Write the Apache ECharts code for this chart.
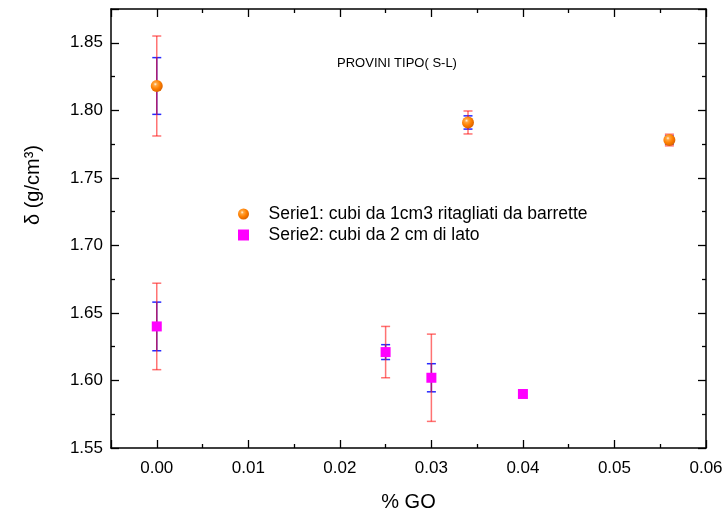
<!DOCTYPE html>
<html><head><meta charset="utf-8">
<script src="https://cdn.jsdelivr.net/npm/echarts@6.0.0/dist/echarts.min.js"></script>
<style>html,body{margin:0;padding:0;background:#fff}#c{width:723px;height:511px}</style>
</head><body><div id="c"></div>
<script>
// ---- data ----
const series1Name = 'Serie1: cubi da 1cm3 ritagliati da barrette';
const series2Name = 'Serie2: cubi da 2 cm di lato';
const s1X = [0, 0.034, 0.056];
const s1Y = [1.818, 1.791, 1.778];
const s1ErrRed = [0.037, 0.0085, 0.0043];
const s1ErrBlue = [0.021, 0.0049, 0.003];
const s2X = [0, 0.025, 0.03, 0.04];
const s2Y = [1.640, 1.621, 1.602, 1.590];
const s2ErrRed = [0.032, 0.019, 0.0323, 0];
const s2ErrBlue = [0.018, 0.0055, 0.0104, 0];
const chartTitle = 'PROVINI TIPO( S-L)';
const xName = '% GO';
const yName = 'δ (g/cm³)';

// ---- chart ----
const FONT = '"Liberation Sans", Arial, sans-serif';
const chart = echarts.init(document.getElementById('c'), null, {renderer: 'canvas'});

function errRender(params, api) {
  const x = api.value(0), y = api.value(1), eR = api.value(2), eB = api.value(3);
  const children = [];
  const cap = 4.5;
  function bar(e, color) {
    if (!e) return;
    const t = api.coord([x, y + e]);
    const b = api.coord([x, y - e]);
    const st = {stroke: color, lineWidth: 1.5};
    children.push({type: 'line', shape: {x1: t[0], y1: t[1], x2: b[0], y2: b[1]}, style: st});
    children.push({type: 'line', shape: {x1: t[0] - cap, y1: t[1], x2: t[0] + cap, y2: t[1]}, style: st});
    children.push({type: 'line', shape: {x1: b[0] - cap, y1: b[1], x2: b[0] + cap, y2: b[1]}, style: st});
  }
  bar(eB, '#2828ff');
  bar(eR, 'rgba(255,20,20,0.6)');
  return {type: 'group', children: children};
}

const tickCommon = {show: true, inside: true, length: 8, lineStyle: {color: '#000', width: 1.3}};
const minorCommon = {show: true, splitNumber: 2, length: 4, lineStyle: {color: '#000', width: 1.3}};
const lineCommon = {show: true, onZero: false, lineStyle: {color: '#000', width: 1.5}};

function xAx(pos, labels) {
  return {
    type: 'value', position: pos, min: -0.005, max: 0.06, minInterval: 0.01, maxInterval: 0.01,
    axisLine: lineCommon, axisTick: tickCommon, minorTick: minorCommon,
    splitLine: {show: false}, minorSplitLine: {show: false},
    axisLabel: labels ? {show: true, showMinLabel: false, formatter: v => v.toFixed(2), color: '#000', fontSize: 17, margin: 12, fontFamily: FONT} : {show: false},
    name: labels ? xName : '', nameLocation: 'middle', nameGap: 44,
    nameTextStyle: {fontSize: 20, color: '#000', fontFamily: FONT}
  };
}
function yAx(pos, labels) {
  return {
    type: 'value', position: pos, min: 1.55, max: 1.875, minInterval: 0.05, maxInterval: 0.05,
    axisLine: lineCommon, axisTick: tickCommon, minorTick: minorCommon,
    splitLine: {show: false}, minorSplitLine: {show: false},
    axisLabel: labels ? {show: true, showMaxLabel: false, formatter: v => v.toFixed(2), color: '#000', fontSize: 17, margin: 8, fontFamily: FONT} : {show: false}
  };
}

const orangeBall = new echarts.graphic.RadialGradient(0.38, 0.35, 0.65, [
  {offset: 0, color: '#fff6e6'},
  {offset: 0.22, color: '#ffa640'},
  {offset: 0.6, color: '#ff8000'},
  {offset: 1, color: '#dc6400'}
]);

chart.setOption({
  animation: false,
  grid: {left: 111, right: 17, top: 9, bottom: 63, containLabel: false, outerBoundsMode: 'none'},
  xAxis: [xAx('bottom', true), xAx('top', false)],
  yAxis: [yAx('left', true), yAx('right', false)],
  legend: {
    data: [{name: series1Name, icon: 'circle'}, {name: series2Name, icon: 'path://M0,0H10V10H0Z'}],
    orient: 'vertical', left: 233, top: 200, symbolKeepAspect: true,
    itemWidth: 40, itemHeight: 11, itemGap: 3, selectedMode: false,
    textStyle: {fontSize: 17.5, color: '#000', fontFamily: FONT}
  },
  graphic: [
    {type: 'text', x: 397, y: 63, style: {text: chartTitle, font: '13px ' + FONT, fill: '#000', align: 'center', verticalAlign: 'middle', textAlign: 'center', textVerticalAlign: 'middle'}},
    {type: 'text', x: 33, y: 185, rotation: Math.PI / 2, style: {text: yName, font: '20px ' + FONT, fill: '#000', align: 'center', verticalAlign: 'middle', textAlign: 'center', textVerticalAlign: 'middle'}}
  ],
  series: [
    {type: 'custom', name: 'err1', renderItem: errRender, encode: {x: 0, y: 1},
     data: s1X.map((x, i) => [x, s1Y[i], s1ErrRed[i], s1ErrBlue[i]]), z: 1},
    {type: 'custom', name: 'err2', renderItem: errRender, encode: {x: 0, y: 1},
     data: s2X.map((x, i) => [x, s2Y[i], s2ErrRed[i], s2ErrBlue[i]]), z: 1},
    {type: 'scatter', name: series1Name, symbol: 'circle', symbolSize: 12,
     itemStyle: {color: orangeBall, opacity: 1}, data: s1X.map((x, i) => [x, s1Y[i]]), z: 3},
    {type: 'scatter', name: series2Name, symbol: 'rect', symbolSize: 10,
     itemStyle: {color: '#ff00ff', opacity: 1}, data: s2X.map((x, i) => [x, s2Y[i]]), z: 3}
  ]
});
</script>
</body></html>
